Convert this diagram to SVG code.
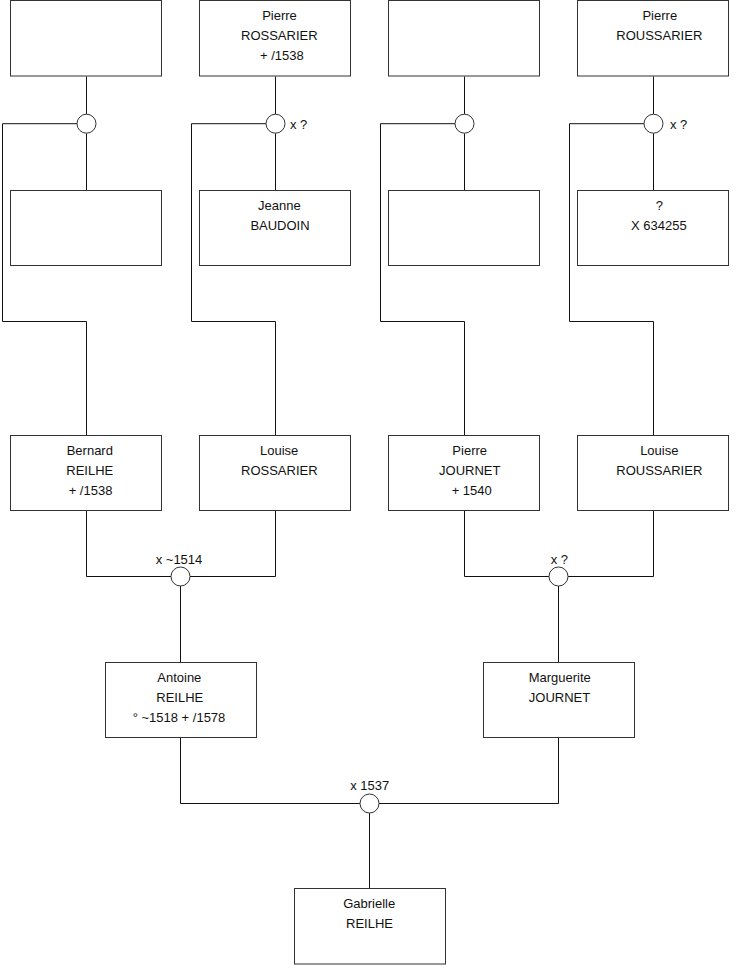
<svg xmlns="http://www.w3.org/2000/svg" width="740" height="975" viewBox="0 0 740 975">
<style>
.box{fill:#fff;stroke:#333;stroke-width:1}
.c{fill:#fff;stroke:#333;stroke-width:1}
.ln{fill:none;stroke:#111;stroke-width:1}
text{font-family:"Liberation Sans",Arial,sans-serif;font-size:13px;fill:#111}
.m{text-anchor:middle}
</style>
<rect width="740" height="975" fill="#fff"/>
<g id="connectors">
<path class="ln" d="M86.5 76.5V114.2M86.5 133.2V190.5M77 123.7H2.5V321.5H86.5V435.5"/>
<path class="ln" d="M275.5 76.5V114.2M275.5 133.2V190.5M266 123.7H191.5V321.5H275.5V435.5"/>
<path class="ln" d="M464.5 76.5V114.2M464.5 133.2V190.5M455 123.7H380.5V321.5H464.5V435.5"/>
<path class="ln" d="M653.5 76.5V114.2M653.5 133.2V190.5M644 123.7H569.5V321.5H653.5V435.5"/>
<path class="ln" d="M86.5 510.5V576.5H171M190 576.5H275.5V510.5M180.5 586V662.5"/>
<path class="ln" d="M464.5 510.5V576.5H549M568 576.5H653.5V510.5M558.5 586V662.5"/>
<path class="ln" d="M180.5 737.5V803.5H360M379 803.5H558.5V737.5M369.5 813V888.5"/>
</g>
<g id="u1"><circle class="c" cx="86.5" cy="123.7" r="9.5"/></g>
<g id="u2"><circle class="c" cx="275.5" cy="123.7" r="9.5"/><text x="290" y="128.5">x ?</text></g>
<g id="u3"><circle class="c" cx="464.5" cy="123.7" r="9.5"/></g>
<g id="u4"><circle class="c" cx="653.5" cy="123.7" r="9.5"/><text x="670" y="128.5">x ?</text></g>
<g id="u5"><circle class="c" cx="180.5" cy="576.5" r="9.5"/><text class="m" x="179" y="563.5">x ~1514</text></g>
<g id="u6"><circle class="c" cx="558.5" cy="576.5" r="9.5"/><text class="m" x="559.3" y="563.5">x ?</text></g>
<g id="u7"><circle class="c" cx="369.5" cy="803.5" r="9.5"/><text class="m" x="369.7" y="790">x 1537</text></g>
<g id="p1"><rect class="box" x="10.5" y="0.5" width="151" height="75.5"/></g>
<g id="p2"><rect class="box" x="199.5" y="0.5" width="151" height="75.5"/>
<text class="m" x="279.5" y="20">Pierre</text><text class="m" x="279.3" y="40">ROSSARIER</text><text class="m" x="281.8" y="60">+ /1538</text></g>
<g id="p3"><rect class="box" x="388.5" y="0.5" width="151" height="75.5"/></g>
<g id="p4"><rect class="box" x="577.5" y="0.5" width="151" height="75.5"/>
<text class="m" x="659.8" y="20">Pierre</text><text class="m" x="659.3" y="40">ROUSSARIER</text></g>
<g id="p5"><rect class="box" x="10.5" y="190.5" width="151" height="75"/></g>
<g id="p6"><rect class="box" x="199.5" y="190.5" width="151" height="75"/>
<text class="m" x="279.3" y="210">Jeanne</text><text class="m" x="280" y="230">BAUDOIN</text></g>
<g id="p7"><rect class="box" x="388.5" y="190.5" width="151" height="75"/></g>
<g id="p8"><rect class="box" x="577.5" y="190.5" width="151" height="75"/>
<text class="m" x="659.3" y="210">?</text><text class="m" x="658.8" y="230">X 634255</text></g>
<g id="p9"><rect class="box" x="10.5" y="435.5" width="151" height="75"/>
<text class="m" x="89.8" y="455">Bernard</text><text class="m" x="89.8" y="475">REILHE</text><text class="m" x="90.5" y="495">+ /1538</text></g>
<g id="p10"><rect class="box" x="199.5" y="435.5" width="151" height="75"/>
<text class="m" x="279.2" y="455">Louise</text><text class="m" x="279.3" y="475">ROSSARIER</text></g>
<g id="p11"><rect class="box" x="388.5" y="435.5" width="151" height="75"/>
<text class="m" x="469.7" y="455">Pierre</text><text class="m" x="469.8" y="475">JOURNET</text><text class="m" x="471.7" y="495">+ 1540</text></g>
<g id="p12"><rect class="box" x="577.5" y="435.5" width="151" height="75"/>
<text class="m" x="659.3" y="455">Louise</text><text class="m" x="659.3" y="475">ROUSSARIER</text></g>
<g id="p13"><rect class="box" x="105.5" y="662.5" width="151" height="75"/>
<text class="m" x="179.3" y="682">Antoine</text><text class="m" x="179.8" y="702">REILHE</text><text class="m" x="179" y="722">° ~1518 + /1578</text></g>
<g id="p14"><rect class="box" x="483.5" y="662.5" width="151" height="75"/>
<text class="m" x="559.7" y="682">Marguerite</text><text class="m" x="559.5" y="702">JOURNET</text></g>
<g id="p15"><rect class="box" x="294.5" y="888.5" width="151" height="75.5"/>
<text class="m" x="369.2" y="908">Gabrielle</text><text class="m" x="369.5" y="928">REILHE</text></g>
</svg>
